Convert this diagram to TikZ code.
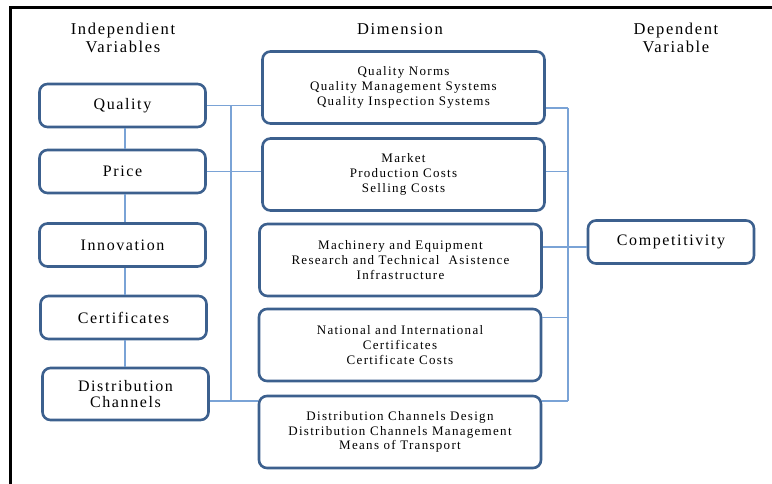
\documentclass[tikz,border=0pt]{standalone}
\usepackage{fontspec}
\setmainfont{Liberation Serif}[LetterSpace=10]
\usetikzlibrary{positioning,calc,shadows}
\definecolor{boxblue}{RGB}{60,96,142}
\definecolor{linkblue}{RGB}{122,163,214}

\begin{document}
\begin{tikzpicture}[x=1pt,y=-1pt,
        var/.style={draw=boxblue, line width=2.6pt, rounded corners=8pt, fill=white,
            drop shadow={opacity=0.18, shadow xshift=0.8pt, shadow yshift=-0.8pt},
            minimum width=166pt, minimum height=43pt, align=center,
            font=\fontsize{16}{16.5}\selectfont},
        dim/.style={var, minimum width=282pt, minimum height=72pt,
            font=\fontsize{13}{14.8}\selectfont},
        head/.style={align=center, font=\fontsize{16.5}{18.5}\selectfont},
        link/.style={draw=linkblue, line width=1.3pt}]
        \useasboundingbox (0,0) rectangle (772,484);
        % frame
        \draw[line width=3pt] (10.5,484) -- (10.5,8) -- (772,8);
        % headings
        \node[head] (hind) at (123,38) {Independient\\Variables};
        \node[head] (hdim) at (400,29) {Dimension};
        \node[head] (hdep) at (676,38) {Dependent\\Variable};
        % independent variables
        \node[var] (qual) at (122.5,105.5) {Quality};
        \node[var] (price) at (122.5,171.5) {Price};
        \node[var] (innov) at (122.5,245) {Innovation};
        \node[var] (cert) at (123.5,317.5) {Certificates};
        \node[var, minimum height=52pt] (distr) at (125.5,394) {Distribution\\Channels};
        % dimensions
        \node[dim] (d1) at (403.5,87.5) {Quality Norms\\Quality Management Systems\\Quality Inspection Systems};
        \node[dim] (d2) at (403.5,174.5) {Market\\Production Costs\\Selling Costs};
        \node[dim] (d3) at (400.5,260) {Machinery and Equipment\\Research and Technical\ \ Asistence\\Infrastructure};
        \node[dim] (d4) at (400,345) {National and International\\Certificates\\Certificate Costs};
        \node[dim] (d5) at (400,432) {Distribution Channels Design\\Distribution Channels Management\\Means of Transport};
        % dependent variable
        \node[var] (comp) at (671,242) {Competitivity};
        % buses
        \coordinate (lc) at (125,0);
        \coordinate (lt) at (231,106);
        \coordinate (lb) at (231,401);
        \coordinate (rt) at (568,108);
        \coordinate (rb) at (568,401);
        \draw[link] (lt) -- (lb);
        \draw[link] (rt) -- (rb);
        % left column links
        \draw[link] (qual.south -| lc) -- (price.north -| lc);
        \draw[link] (price.south -| lc) -- (innov.north -| lc);
        \draw[link] (innov.south -| lc) -- (cert.north -| lc);
        \draw[link] (cert.south -| lc) -- (distr.north -| lc);
        % variables to dimensions
        \draw[link] (qual.east) -- (qual.east -| d1.west);
        \draw[link] (price.east) -- (price.east -| d2.west);
        \draw[link] ($(innov.east)+(0,1)$) -- ($(innov.east)+(0,1)$ -| lt);
        \draw[link] ($(cert.east)+(0,-0.5)$) -- ($(cert.east)+(0,-0.5)$ -| d4.west);
        \draw[link] (lb) -- (lb -| d5.west);
        \draw[link] (lb -| distr.east) -- (lb);
        % dimensions to dependent variable
        \draw[link] (d1.east |- rt) -- (rt);
        \draw[link] (d2.east |- price.east) -- (rt |- price.east);
        \draw[link] (d3.east |- 0,247) -- (comp.west |- 0,247);
        \draw[link] (d4.east |- cert.east) -- (rt |- cert.east);
        \draw[link] (rb -| d4.east) -- (rb);
\end{tikzpicture}
\end{document}
